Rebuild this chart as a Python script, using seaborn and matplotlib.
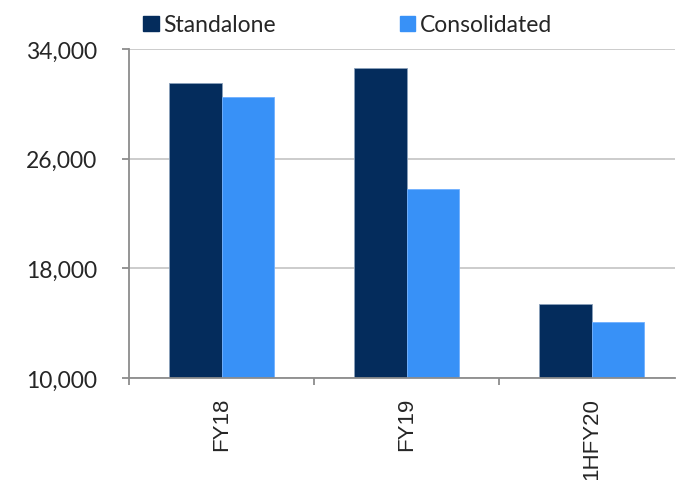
import pandas as pd
import matplotlib.pyplot as plt
import seaborn as sns
from matplotlib.ticker import FuncFormatter


# data
periods = ["FY18", "FY19", "1HFY20"]
standalone = [31500, 32600, 15400]
consolidated = [30500, 23800, 14100]
series_names = ["Standalone", "Consolidated"]
y_ticks = [10000, 18000, 26000, 34000]

navy = "#042C5C"
blue = "#3891F7"

df = pd.DataFrame({
    "period": periods * 2,
    "value": standalone + consolidated,
    "series": [series_names[0]] * 3 + [series_names[1]] * 3,
})

sns.set_style("white")
plt.rcParams["font.family"] = ["Lato", "DejaVu Sans"]

fig = plt.figure(figsize=(6.77, 4.81), dpi=100)
ax = fig.add_axes([129 / 677, 1 - 379 / 481, 1 - 129 / 677 - 2 / 677, 329 / 481])

sns.barplot(data=df, x="period", y="value", hue="series",
            palette=[navy, blue], width=0.57, gap=0, ax=ax, legend=False,
            edgecolor="#8aa0bb", linewidth=0.6, saturation=1)
# lighter edge on the light blue bars
for patch in ax.patches:
    if patch.get_facecolor()[2] > 0.8:
        patch.set_edgecolor("#6fb0ff")

ax.set_ylim(10000, 34000)
ax.set_xlim(-0.5, 2.45)
ax.set_yticks(y_ticks)
ax.yaxis.set_major_formatter(FuncFormatter(lambda v, p: f"{int(v):,}"))
ax.grid(axis="y", color="#c8c8c8", linewidth=1.3)
ax.set_axisbelow(True)
ax.set_xlabel("")
ax.set_ylabel("")

for side in ["top", "right"]:
    ax.spines[side].set_visible(False)
for side in ["left", "bottom"]:
    ax.spines[side].set_color("#8c8c8c")
    ax.spines[side].set_linewidth(1.3)

ax.tick_params(axis="y", which="major", left=True, length=5, width=1.3,
               color="#8c8c8c", labelsize=16.5, pad=18)

ax.set_xticks(range(len(periods)))
ax.set_xticklabels(periods, rotation=90, fontsize=16, family="Liberation Sans")
ax.tick_params(axis="x", which="major", length=0, pad=13.5)
ax.set_xticks([-0.5, 0.5, 1.5], minor=True)
ax.tick_params(axis="x", which="minor", bottom=True, length=5, width=1.3,
               color="#8c8c8c")

handles = [plt.Rectangle((0, 0), 1, 1, color=navy),
           plt.Rectangle((0, 0), 1, 1, color=blue)]
fig.legend(handles, series_names, loc="center left",
           bbox_to_anchor=(143 / 677, 1 - 26 / 481), ncol=2, frameon=False,
           fontsize=16.5, handlelength=0.68, handleheight=0.68,
           handletextpad=0.2, columnspacing=5.4, borderpad=0, borderaxespad=0)

plt.savefig("out.png", dpi=100)
